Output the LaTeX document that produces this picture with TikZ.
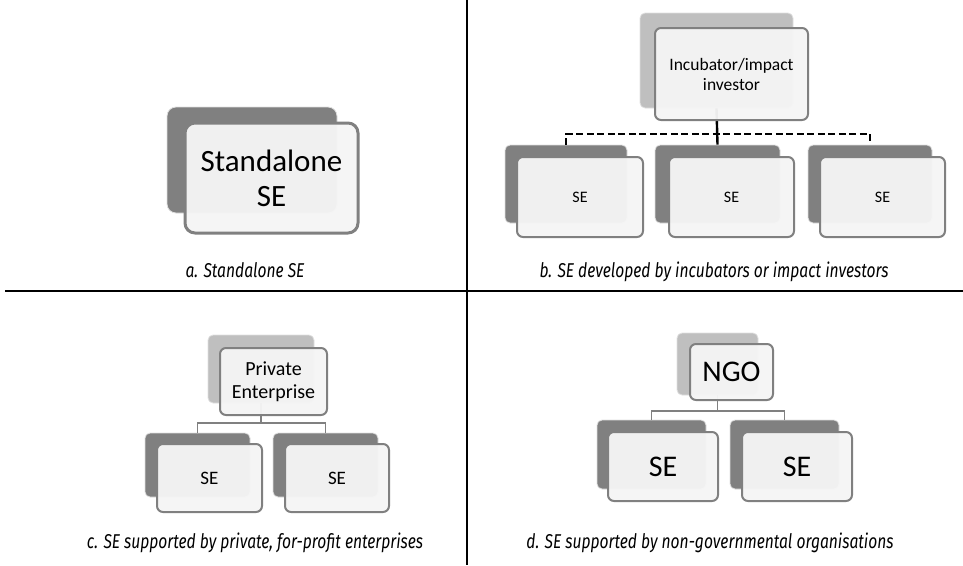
\documentclass[tikz,border=0pt]{standalone}
\usepackage{fontspec}
\setmainfont{Carlito}
\newfontfamily\capfont[FakeStretch=0.78]{Fira Sans}
\begin{document}
\begin{tikzpicture}[x=1pt,y=-1pt,
  backd/.style={draw=black!12, line width=0.8pt, fill=black!50, rounded corners=5pt, inner sep=0pt},
  backl/.style={draw=black!12, line width=0.8pt, fill=black!25, rounded corners=5pt, inner sep=0pt},
  front/.style={draw=black!50, line width=2pt, fill=black!4, fill opacity=0.96, text opacity=1, rounded corners=6pt, align=center, inner sep=0pt},
  conn/.style={draw=black!50, line width=1.5pt},
  dconn/.style={draw=black, line width=2.4pt, dash pattern=on 7pt off 3.5pt},
  sconn/.style={draw=black, line width=2.4pt},
  captxt/.style={font=\capfont\itshape\fontsize{20}{23}\selectfont, anchor=base},
  rulel/.style={draw=black, line width=1.5pt}
]
\useasboundingbox (0,0) rectangle (963,565);
% dividing lines
\coordinate (vt) at (467,0);
\coordinate (vb) at (467,565);
\coordinate (hl) at (5,291);
\coordinate (hr) at (963,291);
\draw[rulel] (vt) -- (vb);
\draw[rulel, line width=2.5pt] (hl) -- (hr);

% ---------- panel a ----------
\node[backd, rounded corners=9pt, minimum width=170, minimum height=106] (aback) at (252,160) {};
\node[front, line width=3pt, rounded corners=10pt, minimum width=173, minimum height=110,
      font=\fontsize{31}{35}\selectfont] (afront) at (271.5,178) {Standalone\\SE};
\node[captxt] (capa) at (245,277) {a. Standalone SE};

% ---------- panel b ----------
\node[backl, minimum width=153, minimum height=95] (btback) at (716.5,60.5) {};
\node[backd, minimum width=122, minimum height=78] (bb1) at (566,184) {};
\node[backd, minimum width=125, minimum height=78] (bb2) at (717.5,184) {};
\node[backd, minimum width=124, minimum height=78] (bb3) at (870,184) {};
\coordinate (bj) at (717.5,134);
\draw[dconn] (bb1.north) |- (bj) -| (bb3.north);
\draw[sconn] (btback.south) -- (bb2.north);
\node[front, minimum width=153, minimum height=92,
      font=\fontsize{17.5}{20}\selectfont] (btfront) at (731.5,74) {Incubator/impact\\investor};
\node[front, minimum width=126, minimum height=80, font=\fontsize{16}{18}\selectfont] (bf1) at (580,197) {SE};
\node[front, minimum width=125, minimum height=80, font=\fontsize{16}{18}\selectfont] (bf2) at (731.5,197) {SE};
\node[front, minimum width=125, minimum height=80, font=\fontsize{16}{18}\selectfont] (bf3) at (882.5,197) {SE};
\node[captxt] (capb) at (714,277) {b. SE developed by incubators or impact investors};

% ---------- panel c ----------
\node[backl, minimum width=106, minimum height=68] (ctback) at (261,369) {};
\node[backd, minimum width=105, minimum height=64] (cb1) at (197.5,465) {};
\node[backd, minimum width=105, minimum height=64] (cb2) at (325.5,465) {};
\coordinate (cj) at (261,423);
\draw[conn] (cb1.north) |- (cj) -| (cb2.north);
\draw[conn] (ctback.south) -- (cj);
\node[front, minimum width=107, minimum height=67,
      font=\fontsize{20}{23}\selectfont] (ctfront) at (273.5,381.5) {Private\\Enterprise};
\node[front, minimum width=105, minimum height=68, font=\fontsize{19}{21}\selectfont] (cf1) at (209.5,478) {SE};
\node[front, minimum width=104, minimum height=68, font=\fontsize{19}{21}\selectfont] (cf2) at (337,478) {SE};
\node[captxt] (capc) at (255,548) {c. SE supported by private, for-profit enterprises};

% ---------- panel d ----------
\node[backl, minimum width=81, minimum height=62] (dtback) at (717.5,364) {};
\node[backd, minimum width=109, minimum height=69] (db1) at (651.5,454.5) {};
\node[backd, minimum width=109, minimum height=69] (db2) at (784.5,454.5) {};
\coordinate (dj) at (717.5,411);
\draw[conn] (db1.north) |- (dj) -| (db2.north);
\draw[conn] (dtback.south) -- (dj);
\node[front, minimum width=83, minimum height=56,
      font=\fontsize{30}{32}\selectfont] (dtfront) at (731.5,372) {NGO};
\node[front, minimum width=110, minimum height=69, font=\fontsize{30}{32}\selectfont] (df1) at (663,466.5) {SE};
\node[front, minimum width=110, minimum height=69, font=\fontsize{30}{32}\selectfont] (df2) at (797,466.5) {SE};
\node[captxt] (capd) at (710,548) {d. SE supported by non-governmental organisations};
\end{tikzpicture}
\end{document}
